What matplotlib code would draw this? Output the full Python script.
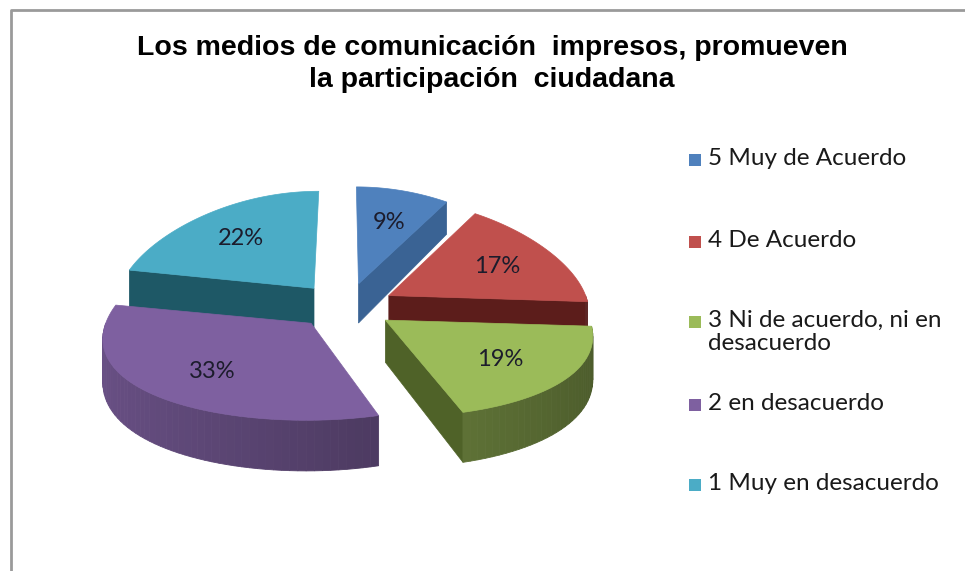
import numpy as np
import matplotlib.pyplot as plt
from matplotlib.patches import Polygon, Rectangle

# data (clockwise from 12 o'clock)
labels = ['5 Muy de Acuerdo', '4 De Acuerdo', '3 Ni de acuerdo, ni en\ndesacuerdo',
          '2 en desacuerdo', '1 Muy en desacuerdo']
values = [9, 17, 19, 33, 22]
pct_text = ['9%', '17%', '19%', '33%', '22%']
top_colors = ['#4F81BD', '#C0504D', '#9BBB59', '#7E60A0', '#4BACC6']
wall_colors = ['#3A6394', '#5C1D1B', '#4F6228', '#4A3A6A', '#1E5866']

title = 'Los medios de comunicación  impresos, promueven\nla participación  ciudadana'

# pie geometry (pixels, y down)
cx, cy = 345, 306
a, b = 200, 97
depth = 41
explode = 50
tilt = 0.46


def rim(th, ox, oy, r=1.0):
    # point on the top face, with a mild perspective (front a bit wider)
    t = np.radians(th)
    x = cx + ox + r * a * np.sin(t)
    y = cy + oy - r * b * np.cos(t)
    return cx + (x - cx) * (1 + 0.15 * (y - cy) / b), y


def drop(p):
    # bottom point under a top point, deeper towards the front
    d = depth * (1 + 0.2 * (p[1] - cy) / b)
    return (p[0], p[1] + d)


def shade(color, f):
    rgb = np.array(plt.matplotlib.colors.to_rgb(color))
    return tuple(np.clip(rgb * f, 0, 1))


def poly(points, color, lw=0.5):
    ax.add_patch(Polygon(points, closed=True, fc=color, ec=color, lw=lw))


fig = plt.figure(figsize=(9.65, 5.71), dpi=100)
ax = fig.add_axes([0, 0, 1, 1])
ax.set_xlim(0, 965)
ax.set_ylim(571, 0)
ax.axis('off')

# chart border (left and top visible)
ax.plot([11, 11, 965], [571, 10, 10], color='#9a9a9a', lw=2, solid_capstyle='butt')

angles = np.cumsum([0] + values) * 3.6
slices = []
for i, v in enumerate(values):
    start, end = angles[i], angles[i + 1]
    mid = (start + end) / 2
    ox = explode * np.sin(np.radians(mid))
    oy = -explode * np.cos(np.radians(mid)) * tilt
    order = oy - 0.5 * b * np.cos(np.radians(mid))
    slices.append((order, i, start, end, mid, ox, oy))

for order, i, start, end, mid, ox, oy in sorted(slices):
    vtx = rim(0, ox, oy, r=0.0)
    # radial walls that face the viewer
    for th, visible in ((start, np.sin(np.radians(start)) < -1e-6),
                        (end, np.sin(np.radians(end)) > 1e-6)):
        if visible:
            p = rim(th, ox, oy)
            poly([vtx, p, drop(p), drop(vtx)], wall_colors[i])
    # curved front wall with a simple light gradient
    lo, hi = max(start, 90), min(end, 270)
    if hi > lo:
        steps = np.linspace(lo, hi, max(2, int((hi - lo) / 2) + 1))
        for t0, t1 in zip(steps[:-1], steps[1:]):
            tm = (t0 + t1) / 2
            f = 0.66 - 0.17 * np.sin(np.radians(tm))
            p0, p1 = rim(t0, ox, oy), rim(t1, ox, oy)
            poly([p0, p1, drop(p1), drop(p0)], shade(top_colors[i], f), lw=0.6)
    # top face
    arc = [rim(t, ox, oy) for t in np.linspace(start, end, 80)]
    poly([vtx] + arc, top_colors[i])
    lx, ly = rim(mid, ox, oy, r=0.66)
    ax.text(lx, ly, pct_text[i], ha='center', va='center', fontsize=17,
            family='Lato', color='#1c1c2c')

# title
fig.text(0.51, 0.888, title, ha='center', va='center', fontsize=20.5,
         family='Liberation Sans', weight='bold', linespacing=1.3, color='black')

# legend
legend_y = [160, 242, 322, 405, 485]
for i, lab in enumerate(labels):
    y = legend_y[i]
    ax.add_patch(Rectangle((689, y - 6), 12, 12, fc=top_colors[i], ec='none'))
    ax.text(708, y - 12, lab, ha='left', va='top', fontsize=17.5, family='Lato',
            color='#1a1a1a', linespacing=1.1)

fig.savefig('out.png', dpi=100)
